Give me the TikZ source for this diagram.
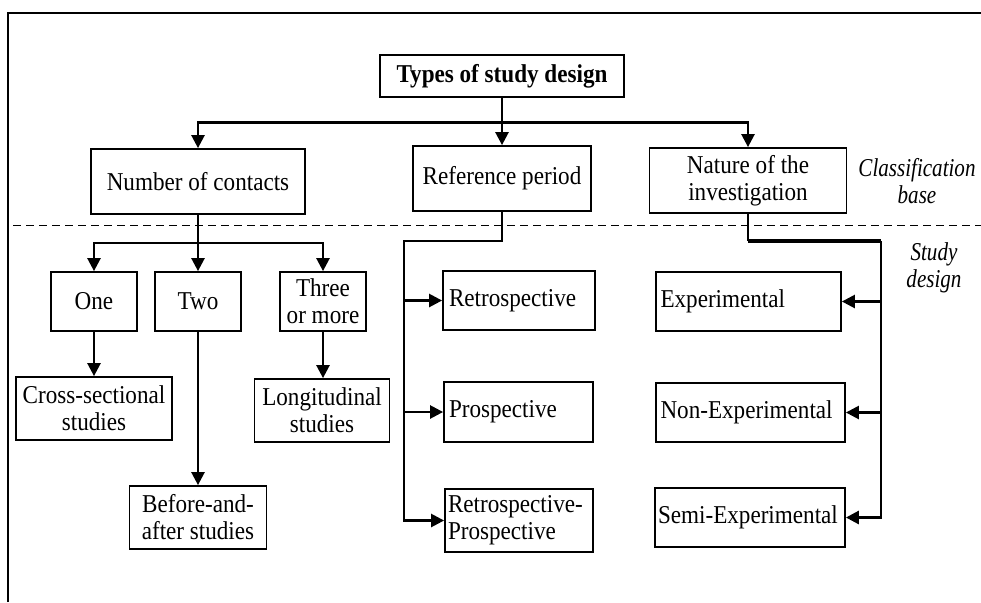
\documentclass[tikz,border=0pt]{standalone}
\usepackage{fontspec}
\setmainfont{Liberation Serif}[FakeStretch=0.9]
\newfontfamily\sidefont{Liberation Serif}[FakeStretch=0.82]
\usetikzlibrary{arrows.meta}
\newcommand\fs{\fontsize{12.85pt}{13.5pt}\selectfont}
\begin{document}
\begin{tikzpicture}[x=0.5pt,y=-0.5pt,
  box/.style={draw, line width=0.9pt, inner sep=0pt, align=center, font=\fs},
  lbox/.style={draw, line width=0.9pt, inner ysep=0pt, align=left, font=\fs},
  link/.style={line width=1.25pt},
  arr/.style={link, -{Triangle[length=6.5pt,width=6.5pt]}},
  side/.style={align=center, font=\fs\sidefont\itshape},
  sep/.style={line width=0.7pt, dash pattern=on 4pt off 2.5pt}]
\useasboundingbox (0,0) rectangle (981,602);

% frame (top and left edges)
\draw[line width=1pt] (7.5,602) -- (7.5,12.7) -- (981,12.7);

% separator between classification base and study designs
\draw[sep] (13,225.5) -- (981,225.5);

% root
\node[box, minimum width=122pt, minimum height=21pt] (title) at (502,76) {\textbf{Types of study design}};

% classification bases
\node[box, minimum width=107pt, minimum height=32.5pt] (noc) at (198,181.5) {Number of contacts};
\node[box, minimum width=89pt, minimum height=32.5pt] (ref) at (502,178.5) {Reference period};
\node[box, minimum width=98.5pt, minimum height=32.5pt] (nat) at (748,180.5) {Nature of the\\investigation};

\node[side] (cls) at (917,181) {Classification\\base};
\node[side] (sd) at (934,268) {Study\\design};

% number of contacts
\node[box, minimum width=43pt, minimum height=29.5pt] (one) at (94,301.5) {One};
\node[box, minimum width=43pt, minimum height=29.5pt] (two) at (198,301.5) {Two};
\node[box, minimum width=43pt, minimum height=29.5pt] (three) at (323,301.5) {Three\\or more};
\node[box, minimum width=78pt, minimum height=31.5pt] (cross) at (94,408.5) {Cross-sectional\\studies};
\node[box, minimum width=67.5pt, minimum height=31.5pt] (longi) at (322,410.5) {Longitudinal\\studies};
\node[box, minimum width=68.5pt, minimum height=31.5pt] (before) at (198,517.5) {Before-and-\\after studies};

% reference period
\node[lbox, inner xsep=3pt, text width=70pt, minimum height=29.5pt] (retro) at (519,300.5) {Retrospective};
\node[lbox, inner xsep=2.5pt, text width=69.5pt, minimum height=30pt] (prosp) at (518.5,412) {Prospective};
\node[lbox, inner xsep=1.5pt, text width=71pt, minimum height=31.5pt] (rp) at (519,520.5) {Retrospective-\\Prospective};

% nature of the investigation
\node[lbox, inner xsep=2.25pt, text width=88pt, minimum height=29.5pt] (exp) at (748.5,301.5) {Experimental};
\node[lbox, inner xsep=2.25pt, text width=90pt, minimum height=29.5pt] (nonexp) at (750.5,412.5) {Non-Experimental};
\node[lbox, inner xsep=1.5pt, text width=92pt, minimum height=29.5pt] (semi) at (750,517.5) {Semi-Experimental};

% branching points
\coordinate (hub) at (502,122.7);
\coordinate (lb) at (198,243);
\coordinate (mb) at (404,241);
\coordinate (rb) at (881,241);

% root to bases
\draw[link] (title) -- (hub);
\draw[arr] (hub) -| (noc.north);
\draw[arr] (hub) -- (ref.north);
\draw[arr] (hub) -| (nat.north);

% number of contacts branch
\draw[link] (noc) -- (lb);
\draw[arr] (lb) -| (one.north);
\draw[arr] (lb) -- (two.north);
\draw[arr] (lb) -| (three.north);
\draw[arr] (one.south) -- (one.south |- cross.north);
\draw[arr] (two) -- (before);
\draw[arr] (three.south) -- (three.south |- longi.north);

% reference period branch
\draw[arr] (ref.south) |- (mb) |- (rp.west);
\draw[arr] (mb |- retro.west) -- (retro.west);
\draw[arr] (mb |- prosp.west) -- (prosp.west);

% nature of the investigation branch
\draw[link, line width=1pt] (nat.south) -- (nat.south |- rb);
\draw[link, line width=1.9pt] (nat.south |- rb) -- (rb);
\draw[arr, line width=1.4pt] (rb) |- (semi.east);
\draw[arr] (rb |- exp.east) -- (exp.east);
\draw[arr] (rb |- nonexp.east) -- (nonexp.east);
\end{tikzpicture}
\end{document}
